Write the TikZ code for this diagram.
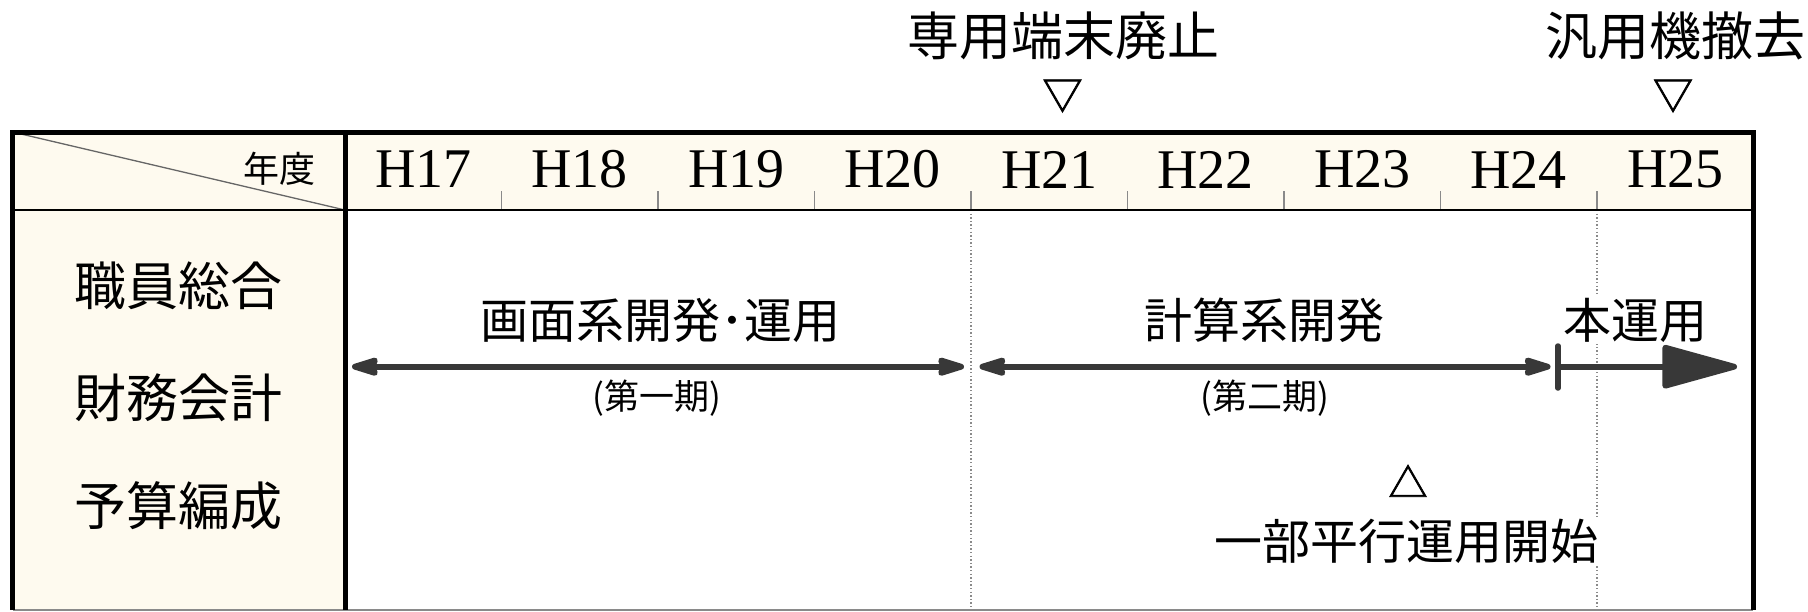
\documentclass[tikz,border=0pt]{standalone}
\usepackage{fontspec}
\setmainfont{Liberation Serif}
\newfontfamily\jp{Noto Sans CJK JP}
\newfontfamily\jptri[FakeBold=2]{Noto Sans CJK JP}
\usetikzlibrary{arrows.meta}
\newcommand\myfs[1]{\fontsize{#1}{#1}\selectfont}
\definecolor{cream}{HTML}{FEFAEF}
\definecolor{arrowgray}{HTML}{383838}
\definecolor{tickgray}{HTML}{8A8A8A}
\definecolor{diaggray}{HTML}{666666}
\tikzset{
  frame/.style={line width=5pt, black},
  tickline/.style={line width=1.2pt, tickgray},
  dotline/.style={line width=1.4pt, tickgray, dash pattern=on 1.4pt off 2.2pt},
  yearlbl/.style={inner sep=0pt, font=\myfs{56}},
  jplbl/.style={inner sep=0pt, font=\jp\myfs{#1}},
  jplbl/.default=48,
  marklbl/.style={inner sep=0pt, font=\jptri\myfs{#1}},
  bandlbl/.style={inner sep=2pt, fill=white, font=\jp\myfs{48}},
  period/.style={inner sep=0pt, font=\jp\myfs{35}},
  span/.style={line width=5.8pt, arrowgray, {Stealth[length=34pt,width=20pt,inset=3pt,round]}-{Stealth[length=34pt,width=20pt,inset=3pt,round]}},
  bigarrow/.style={line width=5.8pt, arrowgray, -{Triangle[length=83pt,width=44pt,round]}},
  barline/.style={line width=5.5pt, arrowgray, line cap=round},
}
\begin{document}
\begin{tikzpicture}[x=1pt,y=-1pt]
\useasboundingbox (0,0) rectangle (1808,611);
% fills
\fill[cream] (12.5,132) rectangle (1753,210);
\fill[cream] (12.5,210) rectangle (345,609.5);
% diagonal
\coordinate (tl) at (12.5,132);
\coordinate (hd) at (345,210);
\draw[line width=1.3pt, diaggray] (tl) -- (hd);
% ticks and dotted lines
\foreach \i in {1,2,3,5,6,7} {
  \draw[tickline] ({345+\i*156.5},191) -- ({345+\i*156.5},210);
}
\foreach \i in {4,8} {
  \draw[tickline] ({345+\i*156.5},191) -- ({345+\i*156.5},210);
  \draw[dotline] ({345+\i*156.5},210) -- ({345+\i*156.5},609.5);
}
% bottom line
\draw[line width=2pt, tickgray] (12.5,609.5) -- (1753,609.5);
% header bottom line
\draw[line width=2pt, black] (12.5,210) -- (1753,210);
% frame
\draw[frame] (12.5,609.5) -- (12.5,132) -- (1753,132) -- (1753,609.5);
\draw[frame] (345,132) -- (345,609.5);
% header labels
\node[jplbl=36, anchor=east] (nendo) at (316,169) {年度};
\foreach \y [count=\i from 0] in {17,18,19,20,21,22,23,24,25} {
  \node[yearlbl] (y\y) at ({345+(\i+0.5)*156.5},169.5) {H\y};
}
% top markers
\node[jplbl=52] (haishi) at (1063.5,36) {専用端末廃止};
\node[marklbl=40] (haishimark) at (1062.5,96) {▽};
\node[jplbl=52] (tekkyo) at (1675.5,36) {汎用機撤去};
\node[marklbl=40] (tekkyomark) at (1673,96) {▽};
% left column
\node[jplbl=52] (sys1) at (178.75,286) {職員総合};
\node[jplbl=52] (sys2) at (178.75,397.5) {財務会計};
\node[jplbl=52] (sys3) at (178.75,506) {予算編成};
% band labels
\node[bandlbl] (gamen) at (660,320) {画面系開発･運用};
\node[bandlbl] (keisan) at (1264,320) {計算系開発};
\node[bandlbl] (honunyo) at (1635.5,320) {本運用};
\node[period] (ki1) at (657,398) {(第一期)};
\node[period] (ki2) at (1265,398) {(第二期)};
\node[marklbl=39] (heikoumark) at (1408,481) {△};
\node[bandlbl] (heikou) at (1406,541) {一部平行運用開始};
% arrows
\coordinate (a1s) at (352,366.7);
\coordinate (a1e) at (964,366.7);
\coordinate (a2s) at (979.5,366.7);
\coordinate (a2e) at (1550.5,366.7);
\coordinate (bart) at (1558,346);
\coordinate (barb) at (1558,388);
\coordinate (a3s) at (1558,366.7);
\coordinate (a3e) at (1737,366.7);
\draw[span] (a1s) -- (a1e);
\draw[span] (a2s) -- (a2e);
\draw[bigarrow] (a3s) -- (a3e);
\draw[barline] (bart) -- (barb);
\end{tikzpicture}
\end{document}
